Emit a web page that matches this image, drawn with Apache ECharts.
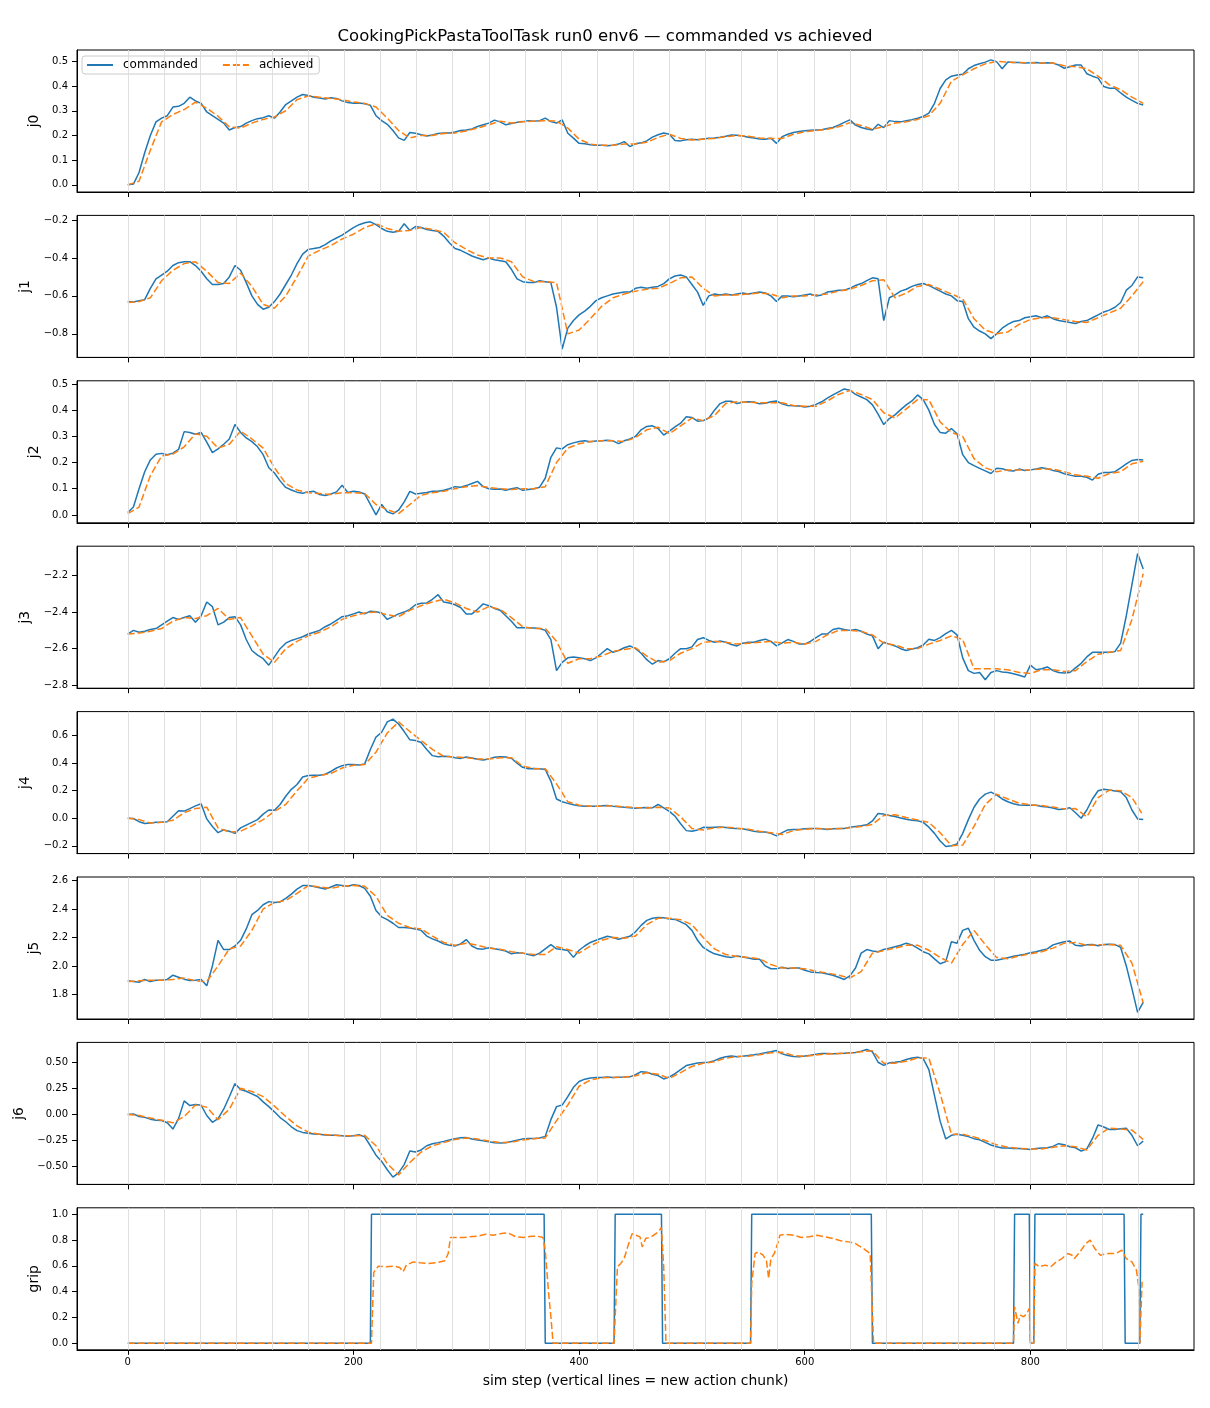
<!DOCTYPE html>
<html>
<head>
<meta charset="utf-8">
<title>CookingPickPastaToolTask run0 env6</title>
<script src="https://cdn.jsdelivr.net/npm/echarts@6/dist/echarts.min.js"></script>
<style>
  html, body { margin: 0; padding: 0; background: #fff; }
  #chart { width: 1210px; height: 1408px; }
</style>
</head>
<body>
<div id="chart"></div>
<script>
// sample grid: commanded read every 5 sim steps, achieved every 10
const cmdSteps = Array.from({ length: 181 }, (_, i) => i * 5);
const achSteps = Array.from({ length: 91 }, (_, i) => i * 10);

// new action chunk starts (vertical lines)
const chunkStarts = [0, 32, 64, 96, 128, 160, 192, 224, 256, 288, 320, 352, 384, 416, 448,
  480, 512, 544, 576, 608, 640, 672, 704, 736, 768, 800, 832, 864, 896];
const xTicks = [0, 200, 400, 600, 800];

// j0
const j0Cmd = [
  0.0, 0.003, 0.05, 0.13, 0.2, 0.255, 0.27, 0.28, 0.315, 0.318, 0.33, 0.355, 0.34, 0.33, 0.295, 0.28, 0.265, 0.25, 0.222, 0.232,
  0.236, 0.25, 0.26, 0.268, 0.272, 0.28, 0.27, 0.295, 0.325, 0.34, 0.355, 0.366, 0.362, 0.355, 0.352, 0.348, 0.353, 0.35, 0.34, 0.333,
  0.33, 0.331, 0.328, 0.322, 0.28, 0.26, 0.245, 0.22, 0.19, 0.18, 0.212, 0.209, 0.203, 0.198, 0.202, 0.208, 0.21, 0.21, 0.214, 0.22,
  0.222, 0.226, 0.236, 0.243, 0.25, 0.262, 0.255, 0.243, 0.248, 0.253, 0.256, 0.26, 0.258, 0.26, 0.27, 0.256, 0.25, 0.263, 0.209, 0.189,
  0.168, 0.166, 0.162, 0.16, 0.16, 0.158, 0.16, 0.165, 0.175, 0.155, 0.166, 0.17, 0.178, 0.193, 0.203, 0.21, 0.205, 0.18, 0.178, 0.183,
  0.185, 0.183, 0.186, 0.189, 0.19, 0.193, 0.197, 0.202, 0.201, 0.198, 0.193, 0.19, 0.186, 0.185, 0.189, 0.168, 0.195, 0.205, 0.212, 0.216,
  0.219, 0.221, 0.222, 0.223, 0.228, 0.232, 0.242, 0.253, 0.263, 0.242, 0.232, 0.226, 0.222, 0.245, 0.232, 0.26, 0.256, 0.255, 0.26, 0.264,
  0.27, 0.277, 0.29, 0.33, 0.39, 0.425, 0.44, 0.445, 0.448, 0.47, 0.483, 0.49, 0.497, 0.506, 0.499, 0.47, 0.497, 0.495, 0.495, 0.493,
  0.494, 0.495, 0.492, 0.494, 0.493, 0.485, 0.472, 0.478, 0.485, 0.485, 0.45, 0.44, 0.432, 0.398, 0.391, 0.391, 0.372, 0.355, 0.342, 0.33,
  0.323
];
const j0Ach = [
  0.0, 0.015, 0.14, 0.255, 0.285, 0.305, 0.335, 0.31, 0.278, 0.235,
  0.23, 0.25, 0.265, 0.275, 0.3, 0.345, 0.36, 0.355, 0.35, 0.345,
  0.335, 0.33, 0.315, 0.27, 0.22, 0.19, 0.2, 0.2, 0.208, 0.21,
  0.218, 0.23, 0.243, 0.258, 0.25, 0.255, 0.258, 0.26, 0.258, 0.23,
  0.185, 0.165, 0.16, 0.16, 0.165, 0.165, 0.172, 0.192, 0.205, 0.188,
  0.182, 0.185, 0.188, 0.195, 0.2, 0.197, 0.19, 0.188, 0.188, 0.205,
  0.215, 0.22, 0.225, 0.235, 0.252, 0.24, 0.225, 0.235, 0.25, 0.255,
  0.265, 0.28, 0.33, 0.42, 0.445, 0.47, 0.49, 0.5, 0.497, 0.495,
  0.494, 0.493, 0.493, 0.482, 0.478, 0.47, 0.44, 0.405, 0.385, 0.355,
  0.33
];

// j1
const j1Cmd = [
  -0.63, -0.632, -0.625, -0.62, -0.56, -0.51, -0.49, -0.47, -0.44, -0.425, -0.42, -0.42, -0.44, -0.47, -0.51, -0.54, -0.54, -0.535, -0.5, -0.44,
  -0.465, -0.53, -0.6, -0.645, -0.67, -0.66, -0.63, -0.59, -0.54, -0.49, -0.43, -0.38, -0.355, -0.35, -0.345, -0.33, -0.31, -0.295, -0.28, -0.26,
  -0.24, -0.225, -0.215, -0.21, -0.225, -0.245, -0.26, -0.265, -0.26, -0.22, -0.255, -0.235, -0.24, -0.25, -0.255, -0.26, -0.285, -0.32, -0.35, -0.36,
  -0.375, -0.39, -0.4, -0.41, -0.4, -0.41, -0.415, -0.42, -0.46, -0.51, -0.525, -0.53, -0.53, -0.52, -0.525, -0.53, -0.66, -0.88, -0.77, -0.73,
  -0.7, -0.68, -0.655, -0.625, -0.61, -0.6, -0.59, -0.585, -0.58, -0.58, -0.56, -0.555, -0.56, -0.555, -0.55, -0.535, -0.51, -0.495, -0.49, -0.5,
  -0.54, -0.58, -0.65, -0.6, -0.59, -0.595, -0.59, -0.595, -0.59, -0.585, -0.59, -0.585, -0.58, -0.585, -0.6, -0.63, -0.6, -0.6, -0.605, -0.6,
  -0.595, -0.59, -0.6, -0.595, -0.58, -0.575, -0.57, -0.57, -0.56, -0.545, -0.535, -0.52, -0.505, -0.51, -0.73, -0.61, -0.595, -0.575, -0.565, -0.55,
  -0.54, -0.535, -0.545, -0.56, -0.575, -0.59, -0.6, -0.625, -0.63, -0.72, -0.765, -0.785, -0.8, -0.825, -0.8, -0.77, -0.75, -0.735, -0.73, -0.715,
  -0.71, -0.705, -0.715, -0.705, -0.72, -0.73, -0.735, -0.74, -0.745, -0.735, -0.73, -0.715, -0.7, -0.685, -0.675, -0.66, -0.635, -0.57, -0.545, -0.5,
  -0.505
];
const j1Ach = [
  -0.635, -0.63, -0.61, -0.52, -0.465, -0.43, -0.42, -0.47, -0.53, -0.535,
  -0.48, -0.55, -0.645, -0.665, -0.6, -0.5, -0.39, -0.36, -0.335, -0.3,
  -0.275, -0.24, -0.22, -0.245, -0.26, -0.255, -0.24, -0.25, -0.265, -0.32,
  -0.355, -0.385, -0.4, -0.4, -0.42, -0.5, -0.525, -0.525, -0.53, -0.8,
  -0.78, -0.72, -0.655, -0.61, -0.59, -0.575, -0.565, -0.56, -0.535, -0.505,
  -0.5, -0.56, -0.6, -0.595, -0.595, -0.59, -0.585, -0.59, -0.61, -0.6,
  -0.6, -0.595, -0.59, -0.575, -0.565, -0.545, -0.52, -0.515, -0.61, -0.585,
  -0.55, -0.54, -0.565, -0.59, -0.615, -0.72, -0.78, -0.8, -0.79, -0.75,
  -0.725, -0.715, -0.715, -0.725, -0.735, -0.74, -0.715, -0.69, -0.665, -0.6,
  -0.525
];

// j2
const j2Cmd = [
  0.009, 0.03, 0.1, 0.165, 0.21, 0.232, 0.235, 0.23, 0.236, 0.25, 0.318, 0.315, 0.308, 0.315, 0.278, 0.238, 0.252, 0.27, 0.29, 0.345,
  0.315, 0.294, 0.28, 0.26, 0.23, 0.18, 0.16, 0.13, 0.105, 0.095, 0.087, 0.083, 0.088, 0.09, 0.078, 0.074, 0.08, 0.088, 0.113, 0.086,
  0.09, 0.088, 0.08, 0.04, 0.0, 0.04, 0.012, 0.004, 0.018, 0.05, 0.09, 0.08, 0.083, 0.086, 0.09, 0.09, 0.094, 0.1, 0.108, 0.106,
  0.112, 0.12, 0.128, 0.108, 0.1, 0.098, 0.099, 0.094, 0.1, 0.104, 0.094, 0.097, 0.1, 0.106, 0.14, 0.22, 0.256, 0.252, 0.268, 0.275,
  0.28, 0.283, 0.279, 0.282, 0.283, 0.285, 0.283, 0.272, 0.283, 0.29, 0.3, 0.325, 0.338, 0.34, 0.33, 0.305, 0.32, 0.336, 0.35, 0.375,
  0.372, 0.358, 0.36, 0.37, 0.4, 0.425, 0.434, 0.434, 0.425, 0.43, 0.432, 0.431, 0.424, 0.426, 0.432, 0.435, 0.424, 0.418, 0.417, 0.416,
  0.412, 0.415, 0.422, 0.432, 0.446, 0.458, 0.47, 0.481, 0.476, 0.46, 0.45, 0.44, 0.42, 0.385, 0.345, 0.368, 0.382, 0.402, 0.42, 0.435,
  0.458, 0.44, 0.4, 0.345, 0.315, 0.312, 0.33, 0.31, 0.23, 0.2, 0.188, 0.178, 0.168, 0.158, 0.178, 0.176, 0.17, 0.168, 0.175, 0.17,
  0.172, 0.175, 0.18, 0.176, 0.17, 0.166, 0.157, 0.152, 0.148, 0.148, 0.144, 0.133, 0.155, 0.162, 0.162, 0.165, 0.18, 0.195, 0.208, 0.212,
  0.21
];
const j2Ach = [
  0.005, 0.03, 0.15, 0.225, 0.232, 0.26, 0.31, 0.3, 0.255, 0.27,
  0.32, 0.29, 0.255, 0.18, 0.12, 0.095, 0.085, 0.082, 0.078, 0.085,
  0.085, 0.082, 0.04, 0.02, 0.005, 0.04, 0.075, 0.085, 0.09, 0.1,
  0.108, 0.112, 0.105, 0.1, 0.097, 0.1, 0.1, 0.108, 0.2, 0.255,
  0.272, 0.28, 0.283, 0.283, 0.28, 0.295, 0.325, 0.335, 0.31, 0.34,
  0.37, 0.36, 0.38, 0.425, 0.432, 0.43, 0.428, 0.428, 0.428, 0.418,
  0.415, 0.415, 0.435, 0.46, 0.475, 0.46, 0.44, 0.39, 0.37, 0.405,
  0.44, 0.44, 0.355, 0.315, 0.3, 0.215, 0.18, 0.165, 0.172, 0.172,
  0.172, 0.175, 0.175, 0.165, 0.153, 0.148, 0.14, 0.158, 0.165, 0.195,
  0.205
];

// j3
const j3Cmd = [
  -2.52, -2.5, -2.51, -2.505, -2.495, -2.49, -2.47, -2.45, -2.43, -2.44, -2.43, -2.42, -2.455, -2.42, -2.345, -2.37, -2.47, -2.455, -2.43, -2.425,
  -2.47, -2.55, -2.61, -2.635, -2.655, -2.69, -2.645, -2.6, -2.57, -2.555, -2.545, -2.535, -2.52, -2.51, -2.5, -2.48, -2.465, -2.445, -2.425, -2.42,
  -2.41, -2.4, -2.41, -2.395, -2.398, -2.405, -2.44, -2.425, -2.41, -2.4, -2.385, -2.36, -2.352, -2.35, -2.33, -2.305, -2.345, -2.35, -2.36, -2.375,
  -2.41, -2.41, -2.385, -2.355, -2.365, -2.38, -2.39, -2.42, -2.45, -2.485, -2.485, -2.485, -2.487, -2.49, -2.5, -2.55, -2.72, -2.675, -2.65, -2.645,
  -2.65, -2.655, -2.665, -2.65, -2.625, -2.6, -2.62, -2.61, -2.595, -2.585, -2.6, -2.625, -2.66, -2.685, -2.665, -2.672, -2.655, -2.625, -2.6, -2.6,
  -2.59, -2.55, -2.54, -2.555, -2.565, -2.558, -2.565, -2.577, -2.585, -2.57, -2.565, -2.565, -2.555, -2.548, -2.56, -2.585, -2.568, -2.55, -2.56, -2.575,
  -2.575, -2.56, -2.54, -2.52, -2.52, -2.495, -2.488, -2.495, -2.5, -2.495, -2.505, -2.52, -2.53, -2.6, -2.565, -2.575, -2.585, -2.6, -2.61, -2.602,
  -2.595, -2.58, -2.548, -2.555, -2.54, -2.518, -2.5, -2.525, -2.65, -2.72, -2.735, -2.73, -2.77, -2.73, -2.72, -2.728, -2.73, -2.737, -2.745, -2.755,
  -2.69, -2.715, -2.71, -2.7, -2.72, -2.73, -2.733, -2.73, -2.705, -2.68, -2.645, -2.62, -2.62, -2.62, -2.62, -2.615, -2.57, -2.42, -2.25, -2.08,
  -2.165
];
const j3Ach = [
  -2.52, -2.515, -2.505, -2.49, -2.45, -2.43, -2.435, -2.42, -2.38, -2.44,
  -2.43, -2.53, -2.63, -2.675, -2.6, -2.56, -2.53, -2.51, -2.48, -2.44,
  -2.42, -2.405, -2.4, -2.415, -2.425, -2.39, -2.365, -2.345, -2.33, -2.35,
  -2.38, -2.4, -2.37, -2.385, -2.43, -2.48, -2.49, -2.49, -2.56, -2.68,
  -2.655, -2.655, -2.64, -2.615, -2.605, -2.595, -2.64, -2.675, -2.665, -2.625,
  -2.6, -2.565, -2.56, -2.565, -2.575, -2.57, -2.565, -2.56, -2.57, -2.565,
  -2.575, -2.56, -2.525, -2.5, -2.5, -2.505, -2.525, -2.57, -2.58, -2.6,
  -2.6, -2.575, -2.555, -2.53, -2.55, -2.71, -2.71, -2.71, -2.715, -2.73,
  -2.735, -2.715, -2.715, -2.725, -2.72, -2.67, -2.63, -2.62, -2.61, -2.44,
  -2.19
];

// j4
const j4Cmd = [
  0.0, -0.002, -0.025, -0.038, -0.035, -0.03, -0.028, -0.025, 0.015, 0.055, 0.052, 0.07, 0.09, 0.105, -0.005, -0.06, -0.105, -0.085, -0.095, -0.11,
  -0.07, -0.05, -0.03, -0.01, 0.03, 0.06, 0.058, 0.1, 0.16, 0.21, 0.245, 0.3, 0.31, 0.313, 0.313, 0.32, 0.34, 0.365, 0.382, 0.39,
  0.39, 0.387, 0.395, 0.5, 0.59, 0.625, 0.7, 0.72, 0.685, 0.63, 0.57, 0.565, 0.55, 0.5, 0.455, 0.447, 0.45, 0.448, 0.44, 0.435,
  0.445, 0.438, 0.428, 0.424, 0.43, 0.443, 0.446, 0.445, 0.436, 0.4, 0.37, 0.36, 0.361, 0.36, 0.355, 0.27, 0.14, 0.12, 0.108, 0.098,
  0.09, 0.087, 0.087, 0.088, 0.09, 0.093, 0.088, 0.084, 0.08, 0.077, 0.072, 0.076, 0.078, 0.076, 0.1, 0.075, 0.05, 0.015, -0.04, -0.09,
  -0.095, -0.085, -0.066, -0.068, -0.065, -0.064, -0.067, -0.072, -0.075, -0.077, -0.085, -0.095, -0.1, -0.1, -0.11, -0.128, -0.105, -0.085, -0.082, -0.081,
  -0.076, -0.075, -0.074, -0.077, -0.081, -0.077, -0.075, -0.074, -0.065, -0.06, -0.055, -0.048, -0.02, 0.035, 0.03, 0.02, 0.012, 0.002, -0.008, -0.015,
  -0.018, -0.03, -0.065, -0.11, -0.165, -0.205, -0.2, -0.187, -0.11, -0.01, 0.08, 0.14, 0.175, 0.19, 0.17, 0.14, 0.12, 0.105, 0.097, 0.095,
  0.095, 0.094, 0.085, 0.082, 0.075, 0.063, 0.068, 0.076, 0.04, 0.0, 0.06, 0.14, 0.2, 0.21, 0.205, 0.198, 0.193, 0.15, 0.06, -0.005,
  -0.01
];
const j4Ach = [
  0.0, -0.01, -0.035, -0.03, -0.015, 0.04, 0.07, 0.08, -0.07, -0.1,
  -0.095, -0.055, -0.01, 0.05, 0.1, 0.2, 0.29, 0.31, 0.325, 0.365,
  0.385, 0.39, 0.48, 0.62, 0.7, 0.63, 0.565, 0.5, 0.45, 0.445,
  0.44, 0.43, 0.43, 0.44, 0.44, 0.38, 0.36, 0.36, 0.25, 0.12,
  0.095, 0.088, 0.088, 0.09, 0.083, 0.078, 0.075, 0.08, 0.075, 0.01,
  -0.075, -0.085, -0.07, -0.065, -0.072, -0.08, -0.095, -0.105, -0.118, -0.09,
  -0.08, -0.075, -0.078, -0.076, -0.07, -0.06, -0.045, 0.02, 0.025, 0.005,
  -0.012, -0.03, -0.105, -0.2, -0.195, -0.06, 0.1, 0.175, 0.14, 0.11,
  0.097, 0.092, 0.082, 0.068, 0.07, 0.01, 0.15, 0.205, 0.2, 0.15,
  0.02
];

// j5
const j5Cmd = [
  1.895, 1.89, 1.885, 1.905, 1.89, 1.9, 1.9, 1.905, 1.935, 1.92, 1.907, 1.898, 1.9, 1.905, 1.86, 2.0, 2.18, 2.115, 2.115, 2.14,
  2.18, 2.26, 2.36, 2.39, 2.43, 2.452, 2.445, 2.45, 2.475, 2.505, 2.54, 2.565, 2.565, 2.558, 2.55, 2.54, 2.555, 2.57, 2.565, 2.56,
  2.57, 2.565, 2.545, 2.49, 2.39, 2.345, 2.325, 2.3, 2.27, 2.27, 2.266, 2.26, 2.25, 2.21, 2.19, 2.175, 2.155, 2.145, 2.14, 2.155,
  2.185, 2.14, 2.12, 2.118, 2.128, 2.12, 2.113, 2.105, 2.085, 2.092, 2.09, 2.08, 2.072, 2.09, 2.12, 2.15, 2.12, 2.115, 2.108, 2.06,
  2.11, 2.14, 2.165, 2.18, 2.195, 2.208, 2.2, 2.187, 2.198, 2.208, 2.24, 2.285, 2.32, 2.335, 2.34, 2.338, 2.33, 2.327, 2.31, 2.29,
  2.25, 2.18, 2.13, 2.105, 2.085, 2.075, 2.065, 2.06, 2.07, 2.062, 2.055, 2.047, 2.047, 2.0, 1.98, 1.98, 1.99, 1.982, 1.985, 1.985,
  1.97, 1.958, 1.954, 1.952, 1.944, 1.935, 1.92, 1.905, 1.93, 1.985, 2.09, 2.115, 2.105, 2.1, 2.115, 2.125, 2.135, 2.145, 2.16, 2.148,
  2.125, 2.1, 2.085, 2.05, 2.015, 2.03, 2.17, 2.16, 2.25, 2.265, 2.18, 2.11, 2.065, 2.04, 2.04, 2.048, 2.058, 2.068, 2.075, 2.083,
  2.092, 2.1, 2.11, 2.12, 2.148, 2.16, 2.17, 2.175, 2.145, 2.14, 2.148, 2.15, 2.142, 2.15, 2.152, 2.15, 2.13, 2.0, 1.84, 1.674,
  1.744
];
const j5Ach = [
  1.89, 1.895, 1.9, 1.9, 1.905, 1.915, 1.895, 1.89, 2.0, 2.12,
  2.14, 2.25, 2.4, 2.445, 2.46, 2.51, 2.565, 2.555, 2.545, 2.56,
  2.565, 2.56, 2.49, 2.355, 2.3, 2.27, 2.26, 2.21, 2.165, 2.145,
  2.16, 2.145, 2.125, 2.118, 2.1, 2.09, 2.08, 2.08, 2.135, 2.115,
  2.09, 2.14, 2.18, 2.2, 2.195, 2.21, 2.29, 2.335, 2.335, 2.325,
  2.29, 2.2, 2.12, 2.08, 2.067, 2.06, 2.05, 2.01, 1.985, 1.985,
  1.98, 1.962, 1.95, 1.935, 1.915, 1.96, 2.09, 2.108, 2.125, 2.145,
  2.145, 2.11, 2.06, 2.02, 2.15, 2.25, 2.15, 2.06, 2.05, 2.07,
  2.085, 2.1, 2.125, 2.16, 2.165, 2.145, 2.148, 2.15, 2.145, 2.02,
  1.74
];

// j6
const j6Cmd = [
  0.0, 0.005, -0.02, -0.028, -0.045, -0.055, -0.058, -0.08, -0.14, -0.04, 0.13, 0.085, 0.095, 0.088, -0.01, -0.075, -0.04, 0.05, 0.17, 0.295,
  0.238, 0.222, 0.197, 0.172, 0.12, 0.075, 0.025, -0.03, -0.07, -0.118, -0.155, -0.172, -0.18, -0.187, -0.19, -0.197, -0.2, -0.199, -0.205, -0.208,
  -0.205, -0.195, -0.215, -0.3, -0.39, -0.45, -0.53, -0.6, -0.56, -0.48, -0.35, -0.36, -0.34, -0.3, -0.28, -0.27, -0.258, -0.245, -0.232, -0.224,
  -0.222, -0.235, -0.244, -0.252, -0.261, -0.27, -0.273, -0.271, -0.26, -0.246, -0.235, -0.231, -0.23, -0.225, -0.21, -0.05, 0.075, 0.09, 0.17, 0.26,
  0.315, 0.338, 0.35, 0.353, 0.355, 0.358, 0.353, 0.357, 0.358, 0.36, 0.38, 0.41, 0.405, 0.385, 0.372, 0.34, 0.36, 0.39, 0.43, 0.468,
  0.48, 0.492, 0.497, 0.5, 0.515, 0.538, 0.553, 0.56, 0.553, 0.558, 0.565, 0.572, 0.58, 0.59, 0.6, 0.612, 0.58, 0.565, 0.555, 0.553,
  0.56, 0.568, 0.577, 0.583, 0.583, 0.582, 0.584, 0.585, 0.592, 0.593, 0.605, 0.622, 0.6, 0.5, 0.47, 0.494, 0.5, 0.508, 0.526, 0.54,
  0.548, 0.535, 0.43, 0.18, -0.064, -0.235, -0.2, -0.19, -0.2, -0.212, -0.232, -0.243, -0.268, -0.293, -0.31, -0.321, -0.322, -0.325, -0.327, -0.33,
  -0.335, -0.325, -0.321, -0.318, -0.306, -0.28, -0.29, -0.31, -0.32, -0.35, -0.33, -0.23, -0.1, -0.12, -0.144, -0.144, -0.138, -0.132, -0.2, -0.3,
  -0.256
];
const j6Ach = [
  0.0, -0.01, -0.035, -0.055, -0.08, -0.02, 0.09, 0.07, -0.05, 0.05,
  0.25, 0.22, 0.17, 0.08, -0.02, -0.11, -0.17, -0.19, -0.198, -0.205,
  -0.205, -0.2, -0.3, -0.47, -0.58, -0.46, -0.36, -0.3, -0.27, -0.24,
  -0.225, -0.235, -0.255, -0.27, -0.265, -0.245, -0.232, -0.225, -0.06, 0.09,
  0.27, 0.33, 0.35, 0.355, 0.357, 0.37, 0.4, 0.385, 0.345, 0.4,
  0.46, 0.49, 0.505, 0.54, 0.555, 0.558, 0.572, 0.59, 0.595, 0.565,
  0.555, 0.57, 0.58, 0.583, 0.588, 0.6, 0.61, 0.49, 0.49, 0.51,
  0.54, 0.54, 0.2, -0.19, -0.19, -0.215, -0.25, -0.29, -0.315, -0.325,
  -0.33, -0.33, -0.315, -0.3, -0.31, -0.34, -0.2, -0.13, -0.14, -0.15,
  -0.24
];

// grip (step function, own sample positions)
const gripCmdSteps = [0, 215, 216, 369, 370, 431, 432, 473, 474, 552, 553, 659, 660, 785, 786, 799, 800, 803, 804, 883, 884, 897, 898, 900];
const gripCmd = [0, 0, 1, 1, 0, 0, 1, 1, 0, 0, 1, 1, 0, 0, 1, 1, 0, 0, 1, 1, 0, 0, 1, 1];
const gripAchSteps = [
  0, 216, 218, 222, 229, 236, 241, 244, 247, 253, 259, 266, 273, 281, 284, 286, 290, 297, 303, 310, 317, 324, 331, 337, 344, 351, 358, 363, 368, 370, 373, 375, 377,
  431, 432, 434, 437, 440, 443, 447, 450, 454, 456, 459, 464, 470, 473, 475, 477,
  552, 553, 556, 559, 563, 566, 568, 570, 573, 576, 578, 583, 590, 597, 604, 611, 618, 625, 632, 639, 645, 652, 658, 659, 661,
  785, 786, 789, 791, 794, 797, 799, 800, 803, 804, 808, 813, 818, 823, 828, 833, 837, 839, 844, 849, 853, 857, 862, 869, 876, 881, 885, 890, 894, 896, 897, 899
];
const gripAch = [
  0, 0, 0.55, 0.598, 0.593, 0.598, 0.588, 0.554, 0.606, 0.631, 0.624, 0.619, 0.624, 0.639, 0.696, 0.82, 0.82, 0.82, 0.825, 0.83, 0.845, 0.838, 0.85, 0.856, 0.825, 0.82, 0.83, 0.83, 0.82, 0.72, 0.387, 0.206, 0,
  0, 0.206, 0.593, 0.619, 0.657, 0.747, 0.85, 0.838, 0.825, 0.747, 0.812, 0.825, 0.863, 0.897, 0.593, 0,
  0, 0.464, 0.696, 0.709, 0.683, 0.644, 0.503, 0.657, 0.696, 0.773, 0.838, 0.845, 0.838, 0.82, 0.825, 0.838, 0.825, 0.812, 0.794, 0.786, 0.773, 0.735, 0.696, 0.709, 0,
  0, 0.284, 0.155, 0.219, 0.206, 0.232, 0.271, 0, 0, 0.619, 0.593, 0.606, 0.593, 0.631, 0.657, 0.696, 0.683, 0.657, 0.709, 0.773, 0.799, 0.735, 0.683, 0.696, 0.696, 0.722, 0.657, 0.631, 0.567, 0.438, 0, 0.477
];

// y tick labels per panel
const j0Ticks = [0, 0.1, 0.2, 0.3, 0.4, 0.5];
const j1Ticks = [-0.8, -0.6, -0.4, -0.2];
const j2Ticks = [0, 0.1, 0.2, 0.3, 0.4, 0.5];
const j3Ticks = [-2.8, -2.6, -2.4, -2.2];
const j4Ticks = [-0.2, 0, 0.2, 0.4, 0.6];
const j5Ticks = [1.8, 2.0, 2.2, 2.4, 2.6];
const j6Ticks = [-0.5, -0.25, 0, 0.25, 0.5];
const gripTicks = [0, 0.2, 0.4, 0.6, 0.8, 1.0];

const BLUE = "#1f77b4", ORANGE = "#ff7f0e";
const FONT = "DejaVu Sans";

const pairs = (xs, ys) => xs.map((x, i) => [x, ys[i]]);

const panels = [
  { label: "j0", cmd: pairs(cmdSteps, j0Cmd), ach: pairs(achSteps, j0Ach), min: -0.029, max: 0.546, ticks: j0Ticks, dec: 1, gap: 31 },
  { label: "j1", cmd: pairs(cmdSteps, j1Cmd), ach: pairs(achSteps, j1Ach), min: -0.924, max: -0.176, ticks: j1Ticks, dec: 1, gap: 39 },
  { label: "j2", cmd: pairs(cmdSteps, j2Cmd), ach: pairs(achSteps, j2Ach), min: -0.03, max: 0.512, ticks: j2Ticks, dec: 1, gap: 31 },
  { label: "j3", cmd: pairs(cmdSteps, j3Cmd), ach: pairs(achSteps, j3Ach), min: -2.816, max: -2.04, ticks: j3Ticks, dec: 1, gap: 39 },
  { label: "j4", cmd: pairs(cmdSteps, j4Cmd), ach: pairs(achSteps, j4Ach), min: -0.257, max: 0.775, ticks: j4Ticks, dec: 1, gap: 39 },
  { label: "j5", cmd: pairs(cmdSteps, j5Cmd), ach: pairs(achSteps, j5Ach), min: 1.627, max: 2.625, ticks: j5Ticks, dec: 1, gap: 31 },
  { label: "j6", cmd: pairs(cmdSteps, j6Cmd), ach: pairs(achSteps, j6Ach), min: -0.67, max: 0.69, ticks: j6Ticks, dec: 2, gap: 46 },
  { label: "grip", cmd: pairs(gripCmdSteps, gripCmd), ach: pairs(gripAchSteps, gripAch), min: -0.05, max: 1.05, ticks: gripTicks, dec: 1, gap: 31 }
];

const fmt = (v, d) => (v < 0 ? "\u2212" : "") + Math.abs(v).toFixed(d);

const grids = [], xAxes = [], yAxes = [], series = [];
panels.forEach((p, i) => {
  const last = i === panels.length - 1;
  grids.push({
    left: 77, width: 1117, top: 50 + 165.4 * i, height: 142,
    show: true, borderColor: "#000", borderWidth: 1, backgroundColor: "transparent"
  });
  xAxes.push({
    type: "value", gridIndex: i, min: -45, max: 945, position: "bottom",
    axisLine: { show: true, onZero: false, lineStyle: { color: "#000", width: 1 } },
    axisTick: { show: true, customValues: xTicks, length: 5, lineStyle: { color: "#000", width: 1 } },
    axisLabel: {
      show: last, customValues: xTicks, margin: 8, color: "#000", fontSize: 10, fontFamily: FONT
    },
    splitLine: { show: false },
    name: last ? "sim step (vertical lines = new action chunk)" : "",
    nameLocation: "middle", nameGap: 25,
    nameTextStyle: { color: "#000", fontSize: 13.9, fontFamily: FONT }
  });
  yAxes.push({
    type: "value", gridIndex: i, min: p.min, max: p.max, position: "left",
    axisLine: { show: true, onZero: false, lineStyle: { color: "#000", width: 1 } },
    axisTick: { show: true, customValues: p.ticks, length: 5, lineStyle: { color: "#000", width: 1 } },
    axisLabel: {
      customValues: p.ticks, margin: 9, color: "#000", fontSize: 10, fontFamily: FONT,
      formatter: (v) => fmt(v, p.dec)
    },
    splitLine: { show: false },
    name: p.label, nameLocation: "middle", nameGap: p.gap,
    nameTextStyle: { color: "#000", fontSize: 13.9, fontFamily: FONT }
  });
  series.push({
    name: "chunks", type: "line", xAxisIndex: i, yAxisIndex: i, data: [], z: 1, silent: true,
    markLine: {
      silent: true, symbol: ["none", "none"], animation: false,
      label: { show: false },
      lineStyle: { color: "#dcdcdc", width: 0.9, type: "solid" },
      data: chunkStarts.map((s) => ({ xAxis: s }))
    }
  });
  series.push({
    name: "commanded", type: "line", xAxisIndex: i, yAxisIndex: i, data: p.cmd,
    symbol: "none", showSymbol: false, z: 3,
    lineStyle: { color: BLUE, width: 1.5 }, itemStyle: { color: BLUE }
  });
  series.push({
    name: "achieved", type: "line", xAxisIndex: i, yAxisIndex: i, data: p.ach,
    symbol: "none", showSymbol: false, z: 4,
    lineStyle: { color: ORANGE, width: 1.5, type: [7, 3] }, itemStyle: { color: ORANGE }
  });
});

const chart = echarts.init(document.getElementById("chart"), null, { renderer: "canvas" });
chart.setOption({
  animation: false,
  backgroundColor: "#fff",
  textStyle: { fontFamily: FONT },
  title: {
    text: "CookingPickPastaToolTask run0 env6 \u2014 commanded vs achieved",
    left: "center", top: 28, padding: 0,
    textStyle: { color: "#000", fontSize: 16.5, fontWeight: "normal", fontFamily: FONT }
  },
  legend: {
    data: ["commanded", "achieved"],
    left: 82, top: 56, orient: "horizontal",
    padding: [3, 6, 3, 4],
    itemWidth: 26, itemHeight: 14, itemGap: 24,
    itemStyle: { opacity: 0 },
    backgroundColor: "rgba(255,255,255,0.8)",
    borderColor: "#cccccc", borderWidth: 1, borderRadius: 3,
    textStyle: { color: "#000", fontSize: 12, fontFamily: FONT, padding: [0, 0, 0, 5] }
  },
  grid: grids,
  xAxis: xAxes,
  yAxis: yAxes,
  series: series
});
</script>
</body>
</html>
